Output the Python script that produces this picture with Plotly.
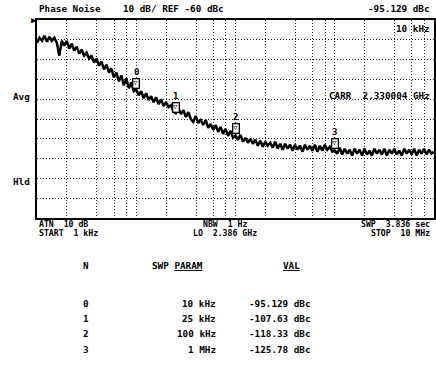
import math
import plotly.graph_objects as go

# ---------------- data ----------------
# sweep grid mantissas (40 points per decade)
mantissas = [1.000, 1.059, 1.122, 1.189, 1.259, 1.334, 1.413, 1.496, 1.585, 1.679,
             1.778, 1.884, 1.995, 2.113, 2.239, 2.371, 2.512, 2.661, 2.818, 2.985,
             3.162, 3.350, 3.548, 3.758, 3.981, 4.217, 4.467, 4.732, 5.012, 5.309,
             5.623, 5.957, 6.310, 6.683, 7.079, 7.499, 7.943, 8.414, 8.913, 9.441]
decades_hz = [1e3, 1e4, 1e5, 1e6]
stop_hz = 1e7
freq_hz = [m * d for d in decades_hz for m in mantissas] + [stop_hz]

# phase noise trace (dBc)
noise_dbc = [
    # 1 kHz .. 10 kHz
    -71.5, -69.0, -70.5, -68.0, -71.0, -68.5, -70.5, -69.0, -71.5, -78.0,
    -70.5, -73.0, -70.5, -74.5, -72.0, -75.5, -73.5, -77.0, -75.0, -78.0,
    -76.5, -79.5, -78.0, -81.5, -79.5, -83.0, -81.0, -85.0, -82.5, -86.5,
    -84.5, -89.0, -86.5, -91.0, -88.0, -93.0, -89.5, -94.5, -91.5, -96.0,
    # 10 kHz .. 100 kHz
    -95.1, -98.0, -96.0, -99.5, -97.0, -100.5, -98.5, -101.5, -99.0, -102.5,
    -100.0, -103.5, -101.5, -104.0, -103.0, -106.5, -107.0, -104.5, -107.5, -105.5,
    -109.0, -106.5, -110.0, -111.5, -108.5, -112.0, -110.5, -113.0, -110.5, -114.5,
    -112.5, -115.5, -113.0, -116.5, -114.0, -117.5, -115.0, -118.5, -116.0, -119.5,
    # 100 kHz .. 1 MHz
    -118.3, -120.5, -118.0, -121.5, -119.5, -122.0, -120.0, -122.5, -120.5, -123.5,
    -121.0, -124.0, -121.5, -123.5, -122.0, -124.5, -121.5, -125.0, -122.5, -125.5,
    -122.5, -125.0, -123.0, -126.0, -123.0, -125.5, -123.5, -126.5, -123.0, -125.5,
    -123.5, -126.0, -123.0, -126.5, -123.5, -126.0, -123.0, -125.5, -124.0, -126.5,
    # 1 MHz .. 10 MHz
    -125.8, -127.5, -124.5, -128.0, -125.0, -127.5, -125.5, -128.5, -125.0, -127.5,
    -125.5, -128.5, -125.0, -128.0, -126.0, -128.5, -125.0, -127.5, -125.5, -128.0,
    -125.0, -128.5, -125.5, -127.5, -125.0, -128.0, -126.0, -128.5, -125.0, -127.5,
    -125.5, -128.0, -125.0, -128.5, -125.5, -127.5, -125.0, -128.0, -125.5, -127.5,
    -126.5,
]

marker_ids = ["0", "1", "2", "3"]
marker_freq_hz = [1e4, 2.5e4, 1e5, 1e6]
marker_val_dbc = [-95.129, -107.63, -118.33, -125.78]
marker_freq_txt = ["10 kHz", "25 kHz", "100 kHz", "1 MHz"]
marker_val_txt = ["-95.129 dBc", "-107.63 dBc", "-118.33 dBc", "-125.78 dBc"]

ref_level_dbc = -60
bottom_dbc = -160
grid_mult = [2, 4, 6, 8, 10]
x_grid_hz = [g * d for d in decades_hz for g in grid_mult]
y_grid_dbc = [-150, -140, -130, -120, -110, -100, -90, -80, -70]

# ---------------- layout helpers ----------------
W, H = 436, 375
L, R, T, B = 37, 0, 20, 157
PW, PH = W - L - R, H - T - B
FONT = "DejaVu Sans Mono"
NB = "\u00a0"


def px(x):
    return (x - L) / PW


def py(y):
    return (H - B - y) / PH


def txt(text, x, y, xanchor="left", size=9.3, yanchor="middle", raw=False):
    t = text if raw else text.replace(" ", NB)
    return dict(text=t, x=px(x), y=py(y), xref="paper", yref="paper",
                xanchor=xanchor, yanchor=yanchor, showarrow=False,
                font=dict(family=FONT, size=size, color="black", weight="bold"))


fig = go.Figure()
fig.add_trace(go.Scatter(x=freq_hz, y=noise_dbc, mode="lines",
                         line=dict(color="black", width=2.5), hoverinfo="skip"))

ann = []
# header / info text
ann.append(txt("Phase Noise    10 dB/ REF -60 dBc", 37, 8))
ann.append(txt("-95.129 dBc", 434, 8, "right"))
ann.append(txt("10 kHz", 434, 29, "right"))
ann.append(txt("CARR  2.330004 GHz", 434, 95, "right"))
ann.append(txt("Avg", 11, 97))
ann.append(txt("Hld", 11, 181))
ann.append(txt("ATN  10 dB", 37, 224, size=8.2))
ann.append(txt("START  1 kHz", 37, 233, size=8.2))
ann.append(txt("NBW  1 Hz", 226, 224, "center", size=8.2))
ann.append(txt("LO  2.386 GHz", 226, 233, "center", size=8.2))
ann.append(txt("SWP  3.836 sec", 434, 224, "right", size=8.2))
ann.append(txt("STOP  10 MHz", 434, 233, "right", size=8.2))
# reference-level triangle
ann.append(dict(text="\u25B6", x=0, y=ref_level_dbc, xref="paper", yref="y",
                xanchor="right", yanchor="middle", showarrow=False, xshift=2,
                font=dict(family=FONT, size=9, color="black")))
# table
ann.append(txt("N", 86, 265, "center"))
ann.append(txt("SWP" + NB + "<span style='text-decoration:underline'>PARAM</span>", 151, 265, raw=True))
ann.append(txt("<span style='text-decoration:underline'>VAL</span>", 282, 265, raw=True))
row_y = [303, 318, 333, 349]
for i in range(len(marker_ids)):
    ann.append(txt(marker_ids[i], 86, row_y[i], "center"))
    ann.append(txt(marker_freq_txt[i], 219, row_y[i], "right"))
    ann.append(txt(marker_val_txt[i], 248, row_y[i]))

# markers on trace (annotation x on a log axis is given in log10 units)
for i in range(len(marker_ids)):
    lx = math.log10(marker_freq_hz[i])
    ann.append(dict(text="\u25BD", x=lx, y=marker_val_dbc[i], xref="x", yref="y",
                    xanchor="center", yanchor="bottom", showarrow=False, yshift=1,
                    bordercolor="black", borderwidth=1.3, borderpad=0, bgcolor="white",
                    font=dict(family=FONT, size=7, color="black")))
    ann.append(dict(text=marker_ids[i], x=lx, y=marker_val_dbc[i], xref="x", yref="y",
                    xanchor="center", yanchor="bottom", showarrow=False, yshift=11,
                    font=dict(family=FONT, size=9, color="black", weight="bold")))

fig.update_layout(
    width=W, height=H, margin=dict(l=L, r=R, t=T, b=B, pad=0),
    paper_bgcolor="white", plot_bgcolor="white", showlegend=False,
    annotations=ann,
    xaxis=dict(type="log", range=[3, 7], tickvals=x_grid_hz, showticklabels=False,
               ticks="", showgrid=True, gridcolor="#222", gridwidth=1, griddash="1px,2px",
               showline=True, linecolor="black", linewidth=2, mirror=True, zeroline=False),
    yaxis=dict(range=[bottom_dbc, ref_level_dbc], tickvals=y_grid_dbc, showticklabels=False,
               ticks="", showgrid=True, gridcolor="#222", gridwidth=1, griddash="1px,2px",
               showline=True, linecolor="black", linewidth=2, mirror=True, zeroline=False),
)

fig.write_html("out.html", config={"displayModeBar": False})

# remove default page margin so the figure sits at the window origin
with open("out.html", "r", encoding="utf-8") as fh:
    page = fh.read()
page = page.replace("<head>", "<head><style>html,body{margin:0;padding:0;overflow:hidden;}</style>", 1)
with open("out.html", "w", encoding="utf-8") as fh:
    fh.write(page)
